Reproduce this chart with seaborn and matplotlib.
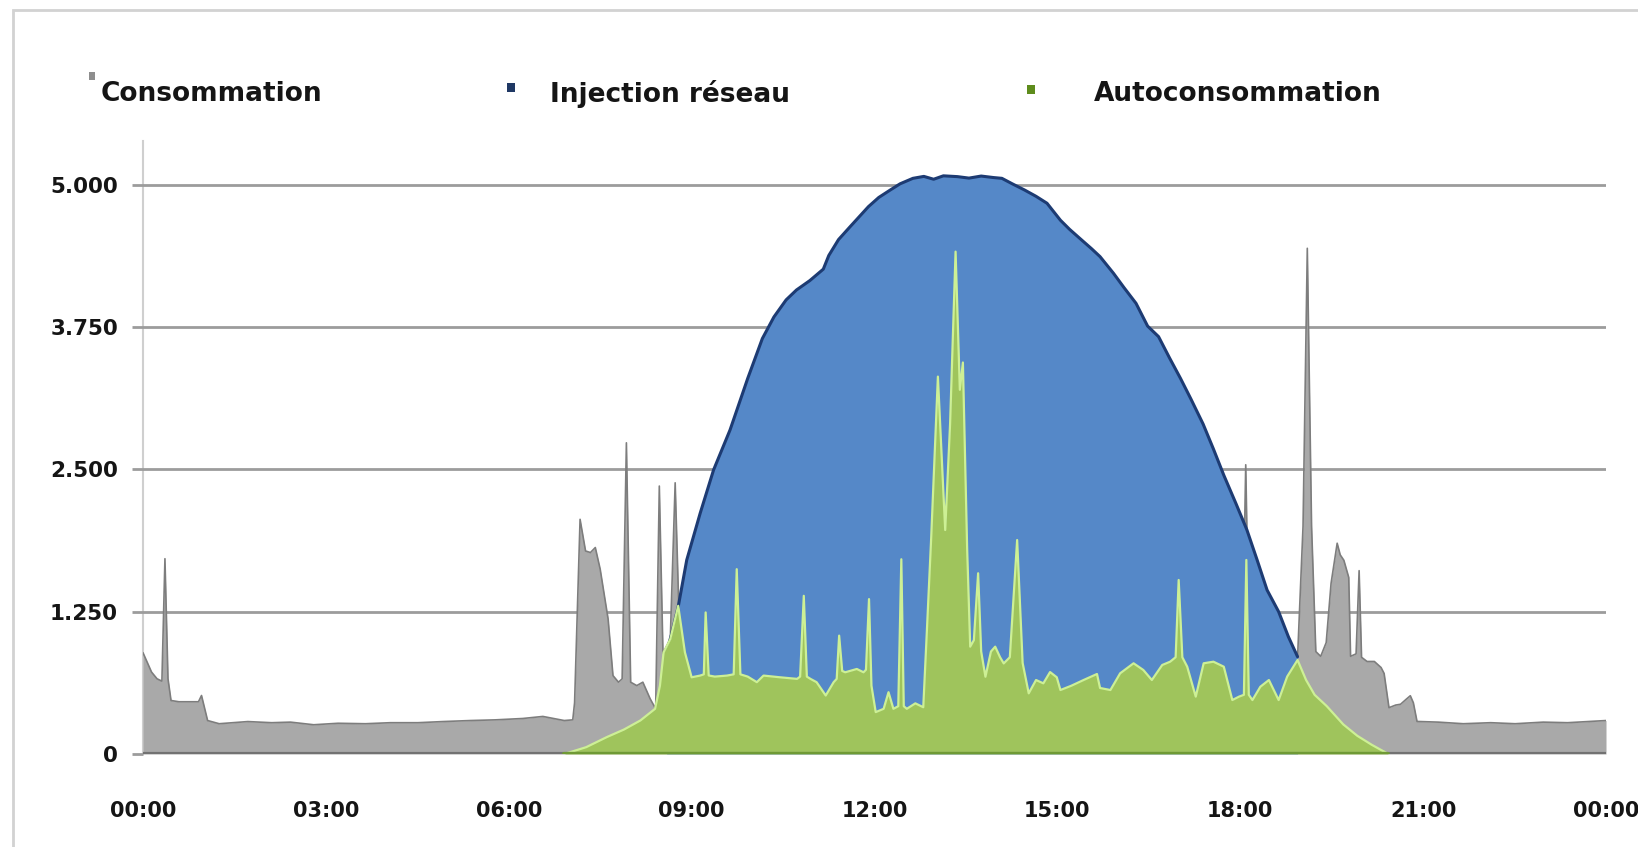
import matplotlib
matplotlib.use("Agg")
import matplotlib.pyplot as plt
from matplotlib.patches import Rectangle
import seaborn as sns
import pandas as pd

# ---------------- data (time in hours, power in W) ----------------
cons_x = [0.00, 0.14, 0.23, 0.31, 0.36, 0.41, 0.46, 0.59, 0.91, 0.96,
          1.06, 1.25, 1.72, 2.11, 2.42, 2.80, 3.20, 3.65, 4.06, 4.51,
          4.92, 5.37, 5.78, 6.23, 6.56, 6.91, 7.05, 7.08, 7.17, 7.26,
          7.34, 7.42, 7.50, 7.63, 7.71, 7.80, 7.86, 7.93, 8.00, 8.10,
          8.20, 8.32, 8.41, 8.47, 8.53, 8.65, 8.73, 8.80, 9.06, 10.16,
          11.72, 13.28, 14.84, 16.41, 17.66, 18.02, 18.09, 18.16, 18.52, 18.94,
          19.03, 19.10, 19.17, 19.24, 19.32, 19.41, 19.49, 19.59, 19.64, 19.70,
          19.78, 19.81, 19.90, 19.95, 19.99, 20.08, 20.20, 20.31, 20.36, 20.44,
          20.55, 20.63, 20.72, 20.79, 20.84, 20.90, 21.25, 21.66, 22.11, 22.51,
          22.97, 23.37, 24.00]
cons_y = [890, 720, 661, 640, 1716, 661, 470, 459, 459, 514,
          294, 266, 285, 275, 280, 257, 270, 266, 275, 275,
          285, 294, 300, 312, 330, 294, 300, 450, 2062, 1784,
          1770, 1814, 1624, 1186, 689, 631, 660, 2734, 631, 601,
          631, 485, 397, 2354, 887, 1010, 2383, 1100, 400, 400,
          350, 400, 400, 450, 450, 470, 2541, 470, 600, 844,
          2000, 4443, 2000, 900, 858, 979, 1500, 1852, 1750, 1702,
          1551, 858, 880, 1611, 850, 813, 813, 760, 708, 407,
          430, 437, 480, 512, 450, 286, 280, 266, 275, 266,
          280, 275, 294]

prod_x = [8.59, 8.67, 8.78, 8.92, 9.14, 9.36, 9.63, 9.92, 10.16, 10.35,
          10.55, 10.72, 10.94, 11.16, 11.25, 11.41, 11.60, 11.90, 12.07, 12.26,
          12.42, 12.63, 12.81, 12.97, 13.13, 13.36, 13.55, 13.75, 13.95, 14.09,
          14.26, 14.46, 14.65, 14.83, 15.05, 15.20, 15.39, 15.56, 15.70, 15.92,
          16.09, 16.29, 16.48, 16.66, 16.84, 17.02, 17.19, 17.39, 17.56, 17.73,
          17.93, 18.11, 18.28, 18.44, 18.63, 18.79, 18.94]
prod_y = [900, 1050, 1294, 1705, 2115, 2496, 2847, 3300, 3650, 3840,
          3990, 4077, 4160, 4260, 4380, 4520, 4633, 4809, 4890, 4956,
          5010, 5058, 5075, 5050, 5080, 5073, 5060, 5078, 5065, 5058,
          5010, 4956, 4900, 4839, 4690, 4610, 4520, 4440, 4370, 4224,
          4100, 3960, 3760, 3667, 3480, 3300, 3120, 2900, 2680, 2450,
          2200, 1968, 1700, 1441, 1250, 1030, 855]

auto_x = [6.91, 7.27, 7.61, 7.89, 8.16, 8.40, 8.48, 8.54, 8.65, 8.78,
          8.89, 9.00, 9.14, 9.20, 9.23, 9.28, 9.38, 9.58, 9.69, 9.74,
          9.80, 9.92, 10.07, 10.18, 10.45, 10.73, 10.78, 10.84, 10.89, 10.95,
          11.05, 11.20, 11.33, 11.38, 11.42, 11.47, 11.52, 11.71, 11.82, 11.86,
          11.91, 11.95, 12.02, 12.15, 12.23, 12.31, 12.39, 12.44, 12.48, 12.53,
          12.67, 12.80, 12.86, 12.93, 13.04, 13.13, 13.16, 13.24, 13.33, 13.40,
          13.45, 13.52, 13.57, 13.63, 13.70, 13.75, 13.82, 13.91, 13.98, 14.06,
          14.12, 14.22, 14.34, 14.43, 14.53, 14.65, 14.77, 14.88, 14.99, 15.05,
          15.23, 15.43, 15.65, 15.70, 15.87, 16.03, 16.25, 16.41, 16.55, 16.72,
          16.85, 16.94, 16.99, 17.05, 17.13, 17.27, 17.40, 17.56, 17.73, 17.87,
          17.98, 18.06, 18.10, 18.14, 18.20, 18.33, 18.47, 18.63, 18.77, 18.94,
          19.08, 19.22, 19.42, 19.69, 19.92, 20.16, 20.43]
auto_y = [0, 60, 149, 215, 295, 397, 600, 893, 1010, 1302,
          893, 674, 689, 700, 1244, 690, 680, 689, 700, 1624,
          700, 680, 631, 689, 674, 660, 680, 1390, 680, 660,
          631, 514, 631, 660, 1040, 730, 718, 747, 718, 740,
          1361, 600, 368, 397, 543, 397, 420, 1711, 420, 397,
          445, 411, 1090, 1900, 3316, 2300, 1968, 2900, 4414, 3200,
          3440, 1800, 943, 1000, 1588, 900, 679, 900, 943, 850,
          796, 850, 1880, 800, 533, 650, 621, 720, 674, 562,
          600, 650, 703, 580, 562, 709, 797, 738, 650, 782,
          811, 850, 1529, 850, 767, 504, 797, 811, 767, 474,
          504, 520, 1705, 520, 474, 591, 650, 474, 680, 826,
          650, 520, 420, 260, 160, 80, 0]

series_names = ["Consommation", "Injection réseau", "Autoconsommation"]
y_ticks = [0, 1250, 2500, 3750, 5000]
y_tick_labels = ["0", "1.250", "2.500", "3.750", "5.000"]
x_ticks = [0, 3, 6, 9, 12, 15, 18, 21, 24]
x_tick_labels = ["00:00", "03:00", "06:00", "09:00", "12:00", "15:00", "18:00", "21:00", "00:00"]

cons = pd.DataFrame({"t": cons_x, "v": cons_y})
prod = pd.DataFrame({"t": prod_x, "v": prod_y})
auto = pd.DataFrame({"t": auto_x, "v": auto_y})

# ---------------- style ----------------
sns.set_theme(style="white")
plt.rcParams["font.family"] = ["DejaVu Sans"]

GRAY_FILL, GRAY_EDGE = "#a9a9a9", "#7d7d7d"
BLUE_FILL, BLUE_EDGE = "#5588c8", "#1d3b73"
GREEN_FILL, GREEN_EDGE = "#9fc45c", "#cdf095"
TXT = "#151515"

W, H = 1638, 847
fig = plt.figure(figsize=(W / 100, H / 100), dpi=100)
ax = fig.add_axes([143 / W, 1 - 754 / H, (1606 - 143) / W, (754 - 141) / H])

# grid
ax.set_axisbelow(True)
ax.yaxis.grid(True, color="#9c9c9c", lw=2, zorder=0)

# consumption (grey)
ax.fill_between(cons["t"], cons["v"], color=GRAY_FILL, lw=0, zorder=1)
sns.lineplot(data=cons, x="t", y="v", ax=ax, color=GRAY_EDGE, lw=1.2,
             sort=False, estimator=None, zorder=1.1)

# production (blue: injection above autoconsumption)
ax.fill_between(prod["t"], prod["v"], color=BLUE_FILL, lw=0, zorder=2)
sns.lineplot(data=prod, x="t", y="v", ax=ax, color=BLUE_EDGE, lw=2.2,
             sort=False, estimator=None, zorder=2.1)

# autoconsumption (green)
ax.fill_between(auto["t"], auto["v"], color=GREEN_FILL, lw=0, zorder=3)
sns.lineplot(data=auto, x="t", y="v", ax=ax, color=GREEN_EDGE, lw=1.6,
             sort=False, estimator=None, zorder=3.1)

# baseline
ax.axhline(0, color="#727272", lw=3, zorder=4)
sns.lineplot(x=[auto_x[0], auto_x[-1]], y=[0, 0], ax=ax, color="#6f9a35", lw=3,
             sort=False, estimator=None, zorder=4.1)

ax.set_xlim(0, 24)
ax.set_ylim(0, 5386)
ax.set_xlabel("")
ax.set_ylabel("")

ax.set_yticks(y_ticks)
ax.set_yticklabels(y_tick_labels)
ax.set_xticks(x_ticks)
ax.set_xticklabels(x_tick_labels)
ax.tick_params(axis="y", left=True, length=8, width=2, color="#9c9c9c", pad=10,
               labelsize=15.5, labelcolor=TXT)
ax.tick_params(axis="x", bottom=False, length=0, pad=34, labelsize=15, labelcolor=TXT)
for lab in ax.get_yticklabels() + ax.get_xticklabels():
    lab.set_fontweight("bold")

for s in ["top", "right", "bottom"]:
    ax.spines[s].set_visible(False)
ax.spines["left"].set_color("#cfcfcf")
ax.spines["left"].set_linewidth(1.5)
ax.spines["left"].set_zorder(0.5)

# outer frame
fig.add_artist(Rectangle((13 / W, -0.2), 1.5, 1.2 - 10 / H, transform=fig.transFigure,
                         fill=False, edgecolor="#d2d2d2", lw=2))

# legend (manual, top row)
legend_items = [
    (series_names[0], "#8e8e8e", 92, 76, 6, 8, 101),
    (series_names[1], "#1f3864", 511, 88, 8, 9, 550),
    (series_names[2], "#5e8c1c", 1031, 90, 8, 9, 1094),
]
for name, col, cx, cy, sw, sh, tx in legend_items:
    fig.add_artist(Rectangle(((cx - sw / 2) / W, 1 - (cy + sh / 2) / H), sw / W, sh / H,
                             transform=fig.transFigure, facecolor=col, edgecolor="none"))
    fig.text(tx / W, 1 - 94 / H, name, fontsize=19, fontweight="bold", color=TXT,
             ha="left", va="center")

fig.savefig("out.png", dpi=100)
